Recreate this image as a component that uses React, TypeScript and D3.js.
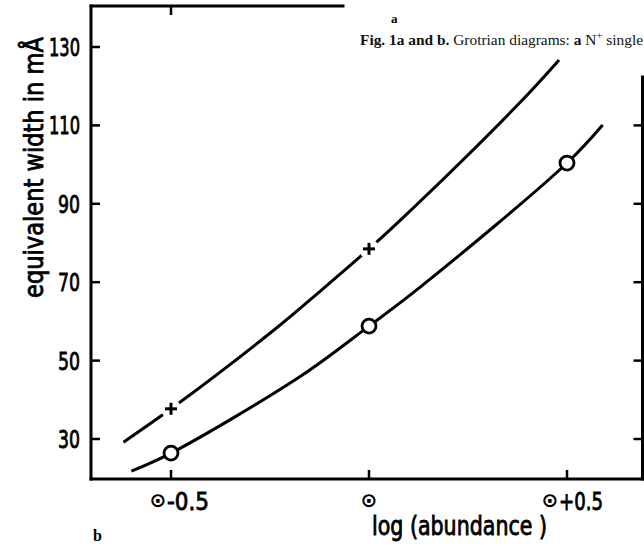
import React from "react";
import * as d3 from "d3";

// ---- data ----
const xTicks = [-0.5, 0, 0.5];
const xTickSun = ["⊙", "⊙", "⊙"];
const xTickText = ["-0.5", "", "+0.5"];
const yTicks = [30, 50, 70, 90, 110, 130];
const yTicksRight = [30, 50, 70, 90, 110];

const plusX = [-0.5, 0];
const plusY = [37.7, 78.5];
const circleX = [-0.5, 0, 0.5];
const circleY = [26.4, 58.8, 100.4];

const upperCurveX = [-0.62, -0.5, -0.24, -0.12, 0, 0.08, 0.38, 0.48];
const upperCurveY = [29.2, 37.7, 57.8, 68.0, 78.5, 85.9, 115.7, 126.7];
const lowerCurveX = [-0.6, -0.5, -0.17, 0, 0.13, 0.5, 0.59];
const lowerCurveY = [21.8, 26.4, 46.2, 58.8, 68.8, 100.4, 110.1];

const W = 644;
const H = 556;

export default function App() {
  const x = d3.scaleLinear().domain([-0.5, 0.5]).range([171, 567]);
  const y = d3.scaleLinear().domain([30, 130]).range([439, 47]);

  const left = 91;
  const right = 642.5;
  const bottom = 479;
  const top = 6;
  const topEnd = 343;
  const rightTop = 77;

  const line = d3
    .line<[number, number]>()
    .x((d) => x(d[0]))
    .y((d) => y(d[1]))
    .curve(d3.curveCatmullRom.alpha(0.5));

  const upper = line(upperCurveX.map((v, i) => [v, upperCurveY[i]] as [number, number])) || "";
  const lower = line(lowerCurveX.map((v, i) => [v, lowerCurveY[i]] as [number, number])) || "";

  const sw = 3;
  const numFont = "'DejaVu Sans Condensed', 'DejaVu Sans', sans-serif";
  const heavy = { stroke: "#000", strokeWidth: 0.8 };

  return (
    <svg
      width={W}
      height={H}
      viewBox={`0 0 ${W} ${H}`}
      style={{ position: "absolute", left: 0, top: 0, display: "block", background: "#fff" }}
    >
      <defs>
        <mask id="plusGap" maskUnits="userSpaceOnUse" x={0} y={0} width={W} height={H}>
          <rect x={0} y={0} width={W} height={H} fill="#fff" />
          {plusX.map((v, i) => (
            <circle key={i} cx={x(v)} cy={y(plusY[i])} r={10} fill="#000" />
          ))}
        </mask>
      </defs>
      <rect x={0} y={0} width={W} height={H} fill="#fff" />

      {/* caption fragments */}
      <text x={391} y={23} fontFamily="'Liberation Serif', serif" fontWeight="bold" fontSize={13}>
        a
      </text>
      <text
        x={360}
        y={45}
        fontFamily="'Liberation Serif', serif"
        fontSize={14.5}
        fill="#111"
        textLength={283}
        lengthAdjust="spacingAndGlyphs"
      >
        <tspan fontWeight="bold">Fig. 1a and b.</tspan>
        <tspan> Grotrian diagrams: </tspan>
        <tspan fontWeight="bold">a</tspan>
        <tspan> N</tspan>
        <tspan fontSize={10} dy={-6}>+</tspan>
        <tspan dy={6}> single</tspan>
      </text>
      <text x={93} y={541} fontFamily="'Liberation Serif', serif" fontWeight="bold" fontSize={16}>
        b
      </text>

      {/* frame */}
      <g stroke="#000" strokeWidth={sw} fill="none" strokeLinecap="square">
        <line x1={left} y1={top} x2={left} y2={bottom} />
        <line x1={left} y1={bottom} x2={W} y2={bottom} />
        <line x1={left} y1={top} x2={topEnd} y2={top} />
        <line x1={right} y1={rightTop} x2={right} y2={bottom} />
      </g>

      {/* ticks */}
      <g stroke="#000" strokeWidth={2.5}>
        {yTicks.map((t) => (
          <line key={"yl" + t} x1={left} x2={left + 9} y1={y(t)} y2={y(t)} />
        ))}
        {yTicksRight.map((t) => (
          <line key={"yr" + t} x1={right} x2={right - 9} y1={y(t)} y2={y(t)} />
        ))}
        {xTicks.map((t) => (
          <line key={"xb" + t} x1={x(t)} x2={x(t)} y1={bottom} y2={bottom - 9} />
        ))}
        {xTicks
          .filter((t) => x(t) < topEnd)
          .map((t) => (
            <line key={"xt" + t} x1={x(t)} x2={x(t)} y1={top} y2={top + 9} />
          ))}
      </g>

      {/* y tick labels */}
      {yTicks.map((t) => {
        const s = String(t);
        return (
          <text
            key={"yt" + t}
            x={80}
            y={y(t)}
            dy="0.36em"
            textAnchor="end"
            fontFamily={numFont}
            fontSize={25}
            textLength={s.length === 3 ? 31 : 22}
            lengthAdjust="spacingAndGlyphs"
            {...heavy}
          >
            {s}
          </text>
        );
      })}

      {/* x tick labels: sun symbol + offset */}
      {xTicks.map((t, i) => {
        const hasText = xTickText[i] !== "";
        const sunX = hasText ? (t < 0 ? x(t) - 13 : x(t) - 17) : x(t);
        return (
          <g key={"xl" + t}>
            <text
              x={sunX}
              y={500}
              dy="0.35em"
              textAnchor="middle"
              fontFamily="'DejaVu Sans', sans-serif"
              fontWeight="bold"
              fontSize={20}
            >
              {xTickSun[i]}
            </text>
            {hasText && (
              <text
                x={sunX + 9}
                y={510}
                fontFamily={numFont}
                fontSize={25}
                textLength={t < 0 ? 42 : 44}
                lengthAdjust="spacingAndGlyphs"
                {...heavy}
              >
                {xTickText[i]}
              </text>
            )}
          </g>
        );
      })}

      {/* axis titles */}
      <text
        x={372}
        y={535}
        fontFamily={numFont}
        fontSize={26}
        textLength={175}
        lengthAdjust="spacingAndGlyphs"
        {...heavy}
      >
        log (abundance )
      </text>
      <text
        transform={`translate(43, 298) rotate(-90)`}
        x={0}
        y={0}
        fontFamily={numFont}
        fontSize={26}
        textLength={261}
        lengthAdjust="spacingAndGlyphs"
        {...heavy}
      >
        equivalent width in mÅ
      </text>

      {/* curves */}
      <path d={upper} fill="none" stroke="#000" strokeWidth={sw} mask="url(#plusGap)" />
      <path d={lower} fill="none" stroke="#000" strokeWidth={sw} />

      {/* plus markers */}
      <g stroke="#000" strokeWidth={3}>
        {plusX.map((v, i) => (
          <g key={"p" + i}>
            <line x1={x(v) - 6} x2={x(v) + 6} y1={y(plusY[i])} y2={y(plusY[i])} />
            <line x1={x(v)} x2={x(v)} y1={y(plusY[i]) - 6} y2={y(plusY[i]) + 6} />
          </g>
        ))}
      </g>

      {/* circle markers */}
      {circleX.map((v, i) => (
        <circle key={"c" + i} cx={x(v)} cy={y(circleY[i])} r={7} fill="#fff" stroke="#000" strokeWidth={2.8} />
      ))}
    </svg>
  );
}
